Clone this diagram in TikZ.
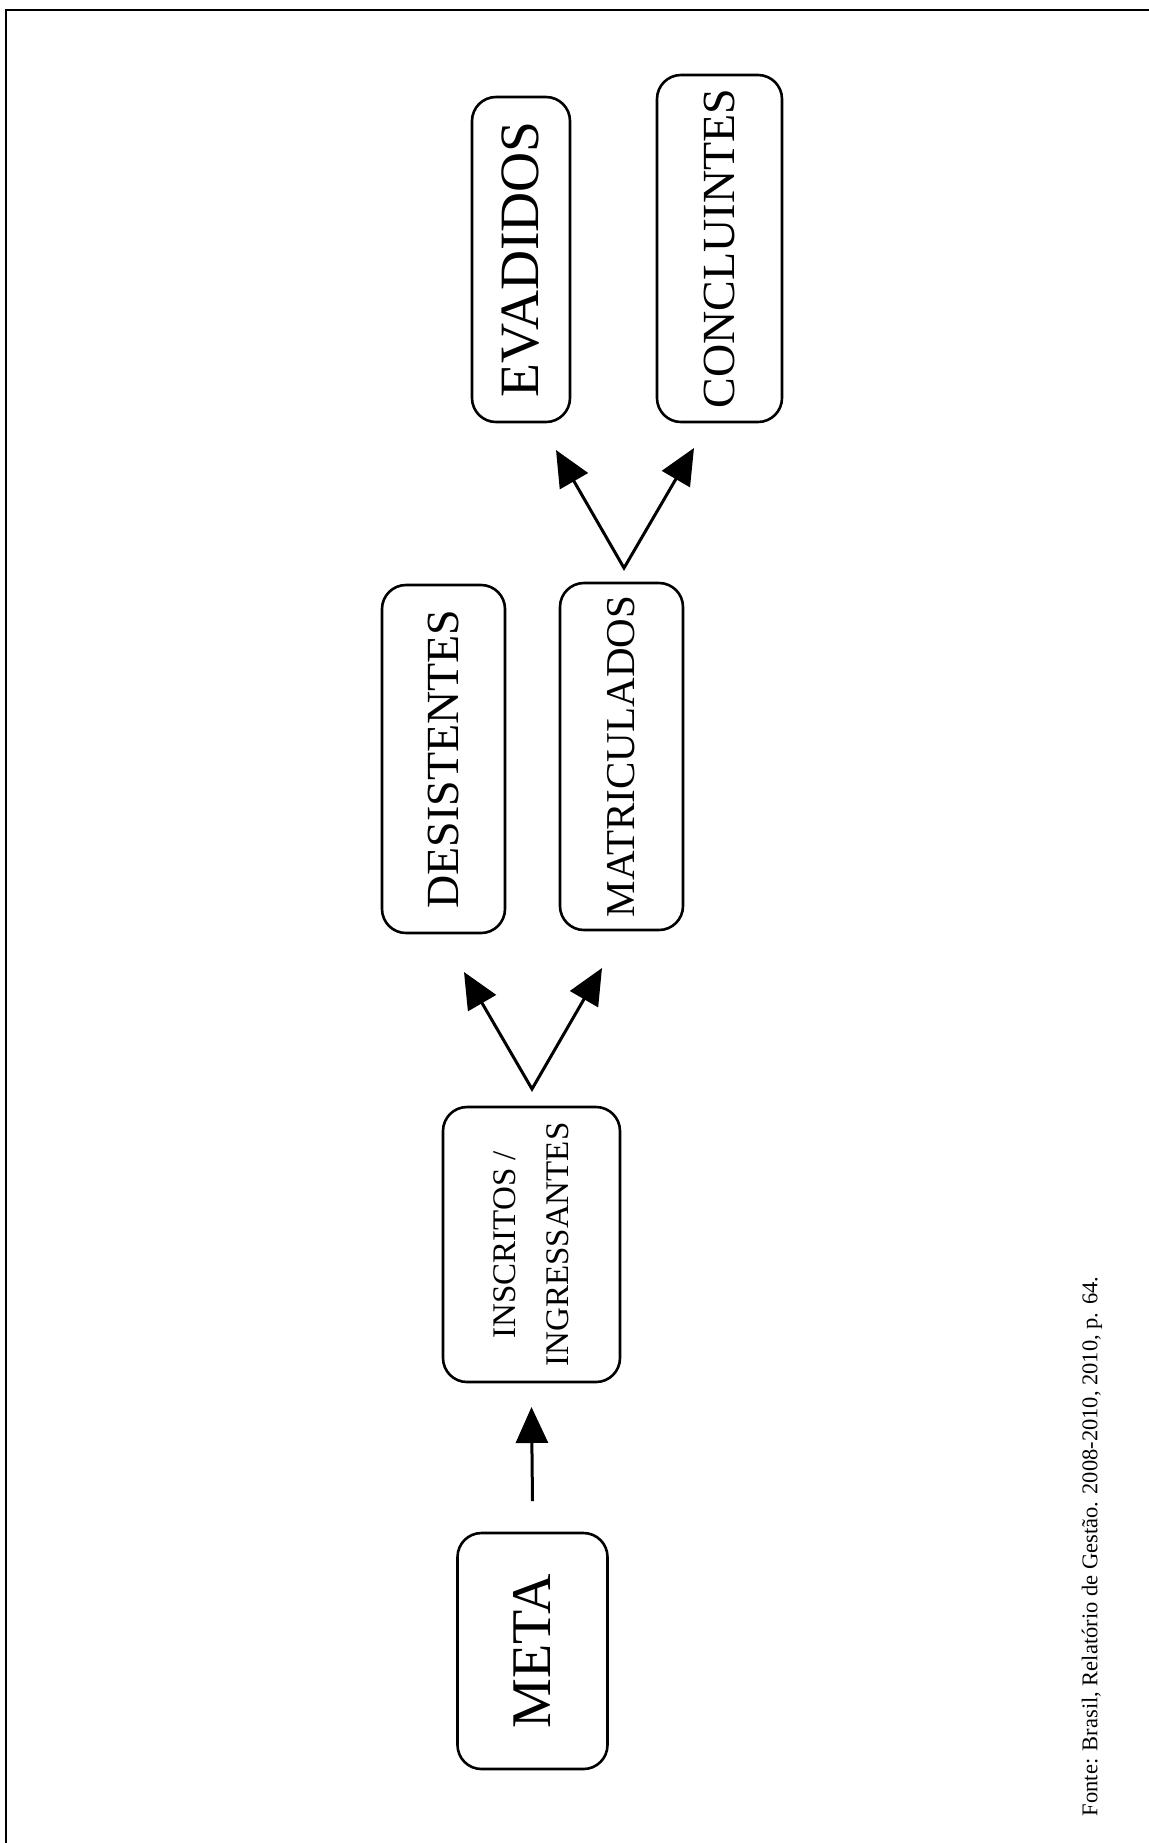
\documentclass[tikz,border=0pt]{standalone}
\usepackage{fontspec}
\setmainfont{Liberation Serif}
\usetikzlibrary{arrows.meta}
\begin{document}
\begin{tikzpicture}[
  x=0.5pt, y=-0.5pt,
  frameline/.style={line width=1.2pt, line join=miter},
  stagebox/.style={draw, line width=1.3pt, rounded corners=12pt,
    inner sep=0pt, outer sep=0pt, fill=white},
  flowarrow/.style={line width=1.5pt, -{Triangle[length=18pt,width=16pt]}},
  forkarrows/.style={line width=1.5pt, line join=miter,
    {Triangle[length=18pt,width=16pt]}-{Triangle[length=18pt,width=16pt]}},
]
\useasboundingbox (0,0) rectangle (1149,1843);
\fill[white] (0,0) rectangle (1149,1843);

% outer frame (top and left edges)
\draw[frameline] (6,1843) -- (6,10) -- (1149,10);

% stages
\node[stagebox, minimum width=75pt, minimum height=118pt,
  font=\fontsize{28}{30}\selectfont] (meta) at (532.5,1651) {\rotatebox{90}{META}};
\node[stagebox, minimum width=88.5pt, minimum height=137.5pt,
  font=\fontsize{16.5}{26.5}\selectfont] (insc) at (531.5,1244.5)
  {\rotatebox{90}{\begin{tabular}{@{}c@{}}INSCRITOS /\\INGRESSANTES\end{tabular}}};
\node[stagebox, minimum width=61.5pt, minimum height=174pt,
  font=\fontsize{23}{25}\selectfont] (desi) at (443.5,759) {\rotatebox{90}{DESISTENTES}};
\node[stagebox, minimum width=61.5pt, minimum height=173.5pt,
  font=\fontsize{20.5}{22}\selectfont] (matr) at (621.5,756.5) {\rotatebox{90}{MATRICULADOS}};
\node[stagebox, minimum width=49pt, minimum height=162.5pt,
  font=\fontsize{27.75}{30}\selectfont] (evad) at (521,259.5) {\rotatebox{90}{EVADIDOS}};
\node[stagebox, minimum width=62.5pt, minimum height=173.5pt,
  font=\fontsize{23}{25}\selectfont] (conc) at (719.5,248.5) {\rotatebox{90}{CONCLUINTES}};

% connectors
\draw[flowarrow] ([yshift=16pt]meta.north) -- ([yshift=-12.5pt]insc.south);

\coordinate (fork1) at ([xshift=0.25pt,yshift=9pt]insc.north);
\draw[forkarrows] ([xshift=10.25pt,yshift=-19.5pt]desi.south) -- (fork1)
  -- ([xshift=-9.75pt,yshift=-19pt]matr.south);

\coordinate (fork2) at ([xshift=1.25pt,yshift=7.5pt]matr.north);
\draw[forkarrows] ([xshift=17.5pt,yshift=-14pt]evad.south) -- (fork2)
  -- ([xshift=-12.75pt,yshift=-13pt]conc.south);

% source note
\node[font=\fontsize{11.25}{13}\selectfont, rotate=90, inner sep=0pt] (fonte) at (1092,1546.5)
  {Fonte: Brasil, Relatório de Gestão. 2008-2010, 2010, p. 64.};
\end{tikzpicture}
\end{document}
